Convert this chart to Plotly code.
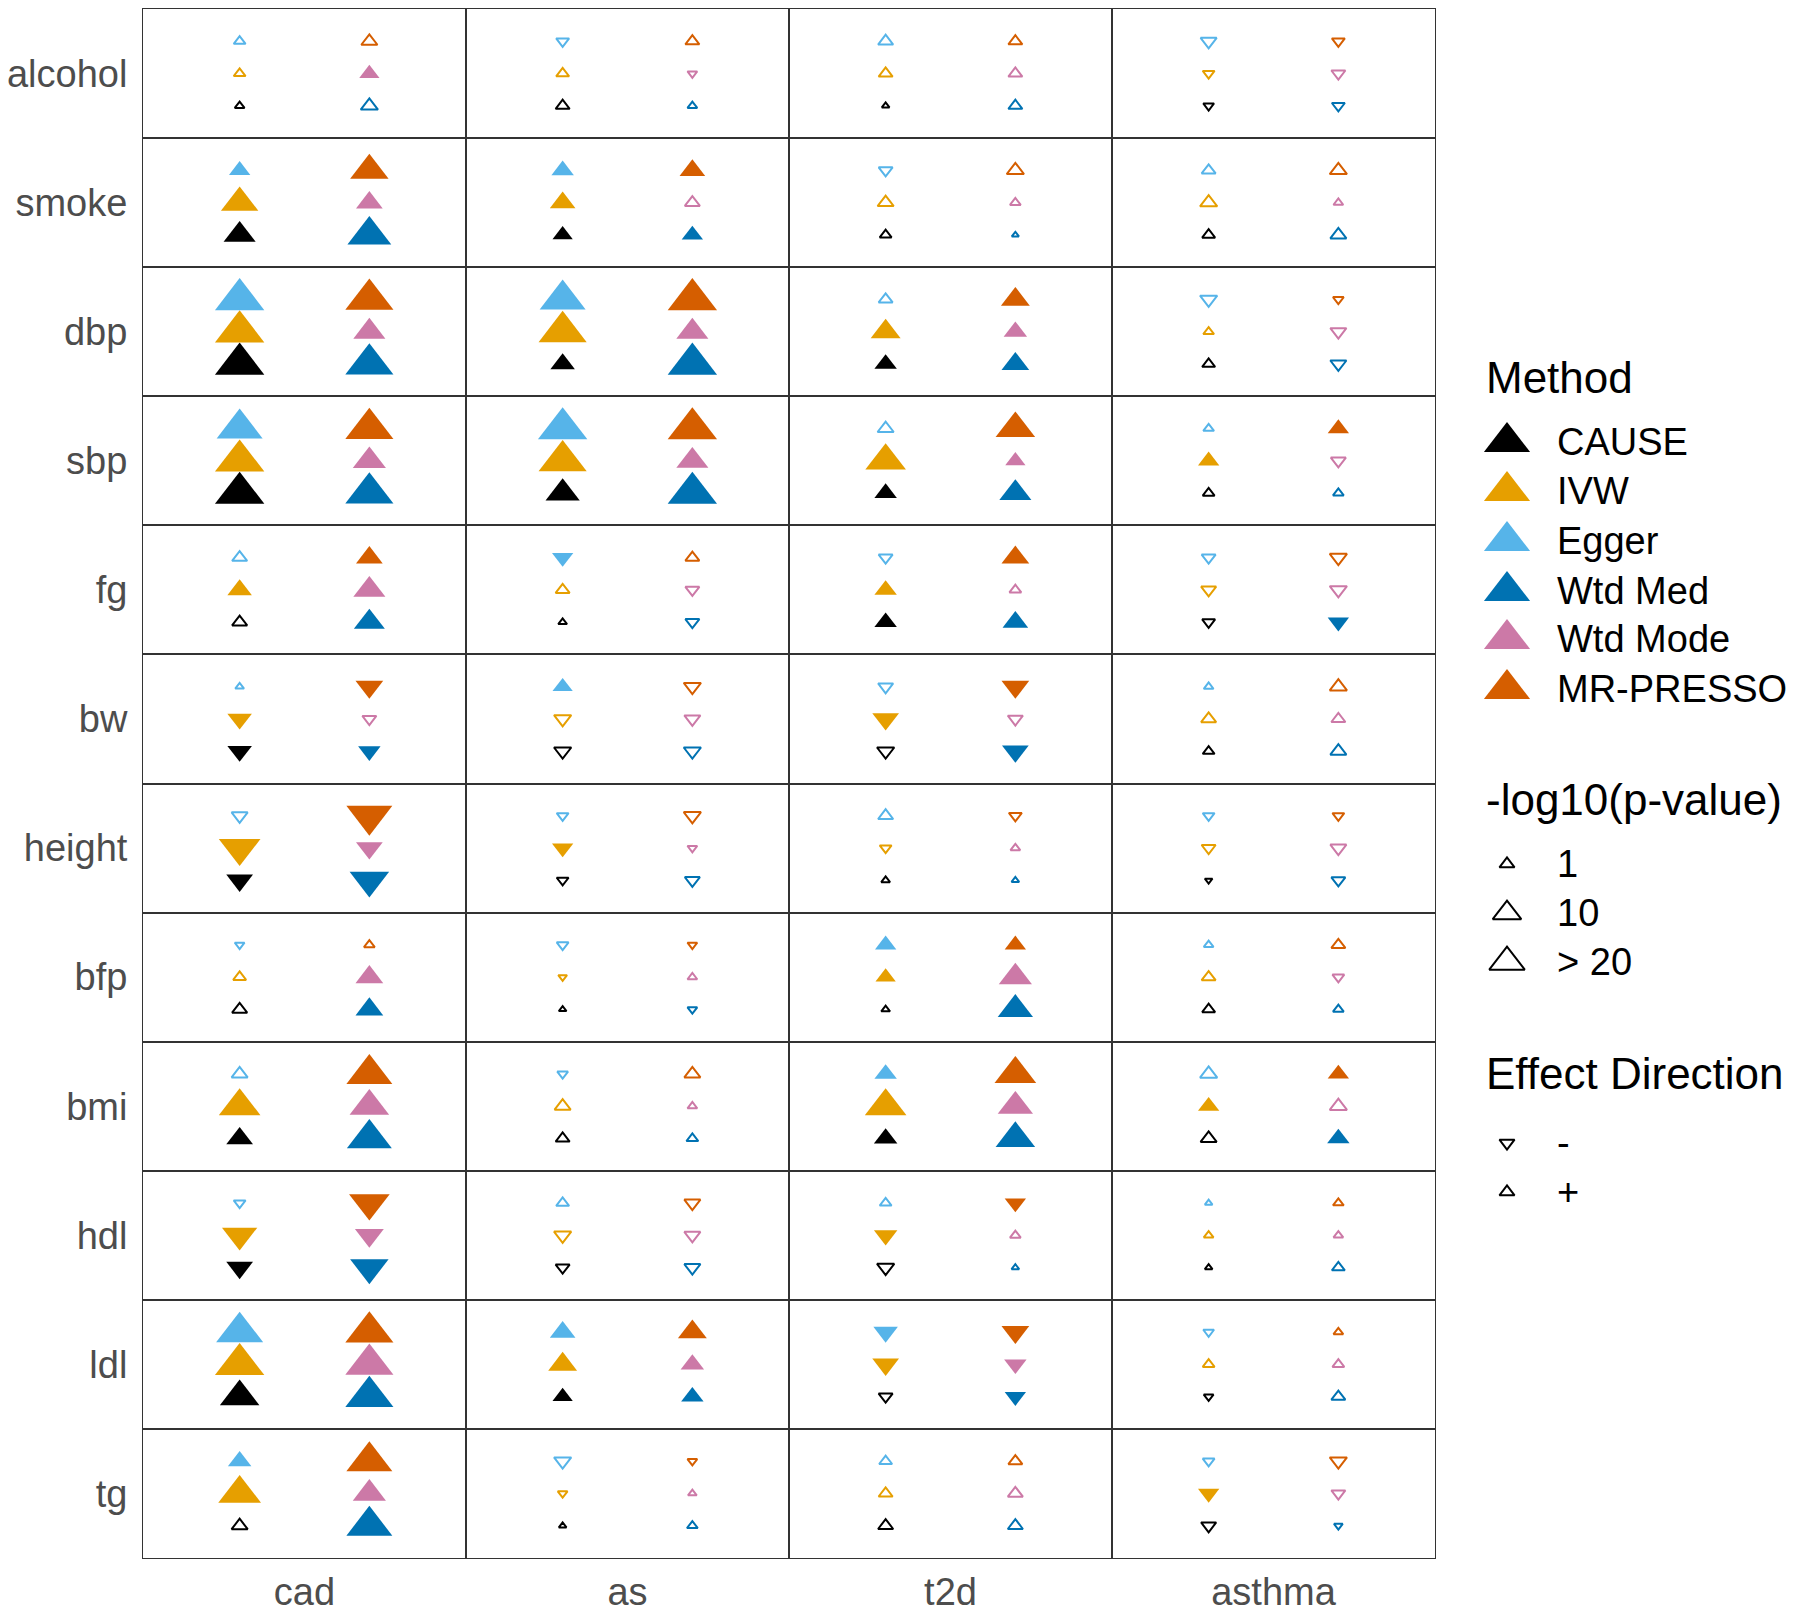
"""Grid of MR method estimates: traits x outcomes, triangles sized by -log10(p)."""

import plotly.graph_objects as go

traits = ["alcohol", "smoke", "dbp", "sbp", "fg", "bw", "height", "bfp", "bmi", "hdl", "ldl", "tg"]
outcomes = ["cad", "as", "t2d", "asthma"]
methods = ["CAUSE", "IVW", "Egger", "Wtd Med", "Wtd Mode", "MR-PRESSO"]
method_colors = ["#000000", "#E69F00", "#56B4E9", "#0072B2", "#CC79A7", "#D55E00"]

# signed -log10(p-value): sign gives effect direction; rows = traits, cols = outcomes
cause = [
    [0.12, 0.73, 0.02, -0.21],
    [11.8, 2.1, 0.34, 0.52],
    [48, 4.5, 3.2, 0.52],
    [48, 14.7, 3.2, 0.34],
    [1.0, 0.06, 3.2, -0.52],
    [-4.5, -1.7, -1.7, 0.34],
    [-6.2, -0.34, 0.06, -0.02],
    [1.0, 0.02, 0.06, 0.52],
    [6.2, 0.73, 3.8, 1.3],
    [-6.2, -0.73, -1.7, 0.02],
    [23.7, 2.1, -0.73, -0.12],
    [1.3, 0.02, 1.0, -1.0],
]
ivw = [
    [0.34, 0.52, 0.73, -0.34],
    [19.8, 5.3, 1.3, 1.7],
    [48, 44.3, 9.3, 0.21],
    [48, 44.3, 25.9, 2.6],
    [4.5, 0.73, 3.2, -1.0],
    [-4.5, -1.7, -6.2, 1.0],
    [-28.1, -2.6, -0.34, -0.73],
    [0.52, -0.06, 2.1, 0.73],
    [28.1, 1.3, 28.1, 2.6],
    [-16.3, -1.7, -3.8, 0.12],
    [48, 8.2, -6.2, 0.34],
    [30.5, -0.12, 0.73, -2.6],
]
egger = [
    [0.34, -0.52, 1.0, -1.3],
    [2.6, 3.2, -0.73, 0.73],
    [48, 38.3, 0.73, -1.7],
    [38.3, 48, 1.3, 0.21],
    [1.0, -2.6, -0.73, -0.73],
    [0.06, 2.1, -1.0, 0.12],
    [-1.3, -0.34, 1.0, -0.34],
    [-0.12, -0.34, 2.6, 0.12],
    [1.3, -0.21, 3.2, 1.7],
    [-0.34, 0.52, 0.34, 0.02],
    [41.3, 5.3, -4.5, -0.21],
    [3.8, -1.7, 0.52, -0.34],
]
wtd_med = [
    [1.7, 0.12, 0.73, -0.52],
    [33.0, 2.6, 0.01, 1.3],
    [44.3, 48, 7.1, -1.3],
    [44.3, 48, 11.8, 0.21],
    [10.5, -0.73, 5.3, -2.6],
    [-3.2, -1.7, -6.2, 1.3],
    [-23.7, -1.0, 0.02, -0.73],
    [7.1, -0.12, 16.3, 0.21],
    [35.7, 0.34, 23.7, 3.2],
    [-21.7, -1.3, 0.02, 0.52],
    [44.3, 3.2, -2.6, 0.73],
    [38.3, 0.21, 1.0, -0.06],
]
wtd_mode = [
    [2.1, -0.12, 0.73, -0.73],
    [6.2, 1.0, 0.21, 0.12],
    [11.8, 11.8, 3.8, -1.3],
    [13.2, 11.8, 2.1, -1.0],
    [11.8, -0.73, 0.34, -1.7],
    [-0.73, -1.3, -1.0, 0.73],
    [-6.2, -0.12, 0.12, -1.3],
    [7.1, 0.12, 13.2, -0.34],
    [23.7, 0.12, 16.3, 1.7],
    [-8.2, -1.3, 0.21, 0.12],
    [44.3, 3.8, -3.2, 0.34],
    [13.2, 0.06, 1.0, -0.73],
]
mr_presso = [
    [1.3, 0.73, 0.73, -0.52],
    [21.7, 5.3, 1.7, 1.7],
    [44.3, 48, 8.2, -0.21],
    [44.3, 48, 23.7, 2.6],
    [6.2, 0.73, 7.1, -1.7],
    [-7.1, -1.7, -7.1, 1.7],
    [-38.3, -1.7, -0.52, -0.34],
    [0.21, -0.12, 2.6, 0.73],
    [38.3, 1.3, 28.1, 2.6],
    [-25.9, -1.3, -2.6, 0.21],
    [44.3, 8.2, -7.1, 0.12],
    [38.3, -0.12, 0.73, -1.7],
]

# significant (filled) or not (open)
cause_sig = [[0, 0, 0, 0], [1, 1, 0, 0], [1, 1, 1, 0], [1, 1, 1, 0], [0, 0, 1, 0], [1, 0, 0, 0],
             [1, 0, 0, 0], [0, 0, 0, 0], [1, 0, 1, 0], [1, 0, 0, 0], [1, 1, 0, 0], [0, 0, 0, 0]]
ivw_sig = [[0, 0, 0, 0], [1, 1, 0, 0], [1, 1, 1, 0], [1, 1, 1, 1], [1, 0, 1, 0], [1, 0, 1, 0],
           [1, 1, 0, 0], [0, 0, 1, 0], [1, 0, 1, 1], [1, 0, 1, 0], [1, 1, 1, 0], [1, 0, 0, 1]]
egger_sig = [[0, 0, 0, 0], [1, 1, 0, 0], [1, 1, 0, 0], [1, 1, 0, 0], [0, 1, 0, 0], [0, 1, 0, 0],
             [0, 0, 0, 0], [0, 0, 1, 0], [0, 0, 1, 0], [0, 0, 0, 0], [1, 1, 1, 0], [1, 0, 0, 0]]
wtd_med_sig = [[0, 0, 0, 0], [1, 1, 0, 0], [1, 1, 1, 0], [1, 1, 1, 0], [1, 0, 1, 1], [1, 0, 1, 0],
               [1, 0, 0, 0], [1, 0, 1, 0], [1, 0, 1, 1], [1, 0, 0, 0], [1, 1, 1, 0], [1, 0, 0, 0]]
wtd_mode_sig = [[1, 0, 0, 0], [1, 0, 0, 0], [1, 1, 1, 0], [1, 1, 1, 0], [1, 0, 0, 0], [0, 0, 0, 0],
                [1, 0, 0, 0], [1, 0, 1, 0], [1, 0, 1, 0], [1, 0, 0, 0], [1, 1, 1, 0], [1, 0, 0, 0]]
mr_presso_sig = [[0, 0, 0, 0], [1, 1, 0, 0], [1, 1, 1, 0], [1, 1, 1, 1], [1, 0, 1, 0], [1, 0, 1, 0],
                 [1, 0, 0, 0], [0, 0, 1, 0], [1, 0, 1, 1], [1, 0, 1, 0], [1, 1, 1, 0], [1, 0, 0, 0]]

values = [cause, ivw, egger, wtd_med, wtd_mode, mr_presso]
signif = [cause_sig, ivw_sig, egger_sig, wtd_med_sig, wtd_mode_sig, mr_presso_sig]

# slot of each method inside a panel
method_x = [1, 1, 1, 2, 2, 2]
method_y = [1, 2, 3, 1, 2, 3]

pval_breaks = [1, 10, 20]
pval_labels = ["1", "10", "> 20"]
direction_labels = ["-", "+"]

TEXT_GREY = "#4D4D4D"
FONT = "Liberation Sans, Arial, sans-serif"
OPEN_LW = 2
BODY = 8  # page body margin the browser adds around the plot div
FLAT = 1.07  # plotly triangles are flatter than R's, widen a bit to keep the area


def tri_width(v):
    """Triangle width in px for a -log10(p) value."""
    v = min(abs(v), 48)
    return 7 + 9 * v ** 0.38


def plotly_size(width, filled):
    # plotly triangle width is ~1.155 * size; open strokes add to the outside
    return (width * FLAT - (0 if filled else OPEN_LW)) / 1.155


fig = go.Figure()

n_rows, n_cols = len(traits), len(outcomes)
m_left, m_top, m_right = 143 - BODY, 9 - BODY, 0
m_bottom = 1609 - (1558 - BODY)
paper_w = 1800 - m_left - m_right
grid_frac = 1292 / paper_w
layout_axes = {}

for r, trait in enumerate(traits):
    for c, outcome in enumerate(outcomes):
        k = r * n_cols + c + 1
        sfx = "" if k == 1 else str(k)
        sizes, symbols, colors, lws = [], [], [], []
        for m in range(len(methods)):
            v = values[m][r][c]
            filled = bool(signif[m][r][c])
            sym = "triangle-up" if v >= 0 else "triangle-down"
            if not filled:
                sym += "-open"
            symbols.append(sym)
            sizes.append(plotly_size(tri_width(v), filled))
            colors.append(method_colors[m])
            lws.append(0 if filled else OPEN_LW)
        fig.add_trace(go.Scatter(
            x=method_x, y=method_y, mode="markers",
            marker=dict(symbol=symbols, size=sizes, color=colors, opacity=1,
                        line=dict(color=colors, width=lws)),
            xaxis="x" + sfx, yaxis="y" + sfx,
            showlegend=False, hoverinfo="skip",
        ))

        xa = dict(
            domain=[c * grid_frac / n_cols, (c + 1) * grid_frac / n_cols],
            range=[0.255, 2.745], anchor="y" + sfx,
            showline=True, mirror=True, linecolor="#333333", linewidth=1,
            showgrid=False, zeroline=False, ticks="", fixedrange=True,
        )
        ya = dict(
            domain=[1 - (r + 1) / n_rows, 1 - r / n_rows],
            range=[0, 4], anchor="x" + sfx,
            showline=True, mirror=True, linecolor="#333333", linewidth=1,
            showgrid=False, zeroline=False, ticks="", fixedrange=True,
        )
        if r == n_rows - 1:
            xa.update(tickvals=[1.5], ticktext=[outcome], ticklabelstandoff=0,
                      tickfont=dict(size=38, color=TEXT_GREY, family=FONT))
        else:
            xa.update(showticklabels=False)
        if c == 0:
            ya.update(tickvals=[2], ticktext=[trait], ticklabelstandoff=7,
                      tickfont=dict(size=38, color=TEXT_GREY, family=FONT))
        else:
            ya.update(showticklabels=False)
        layout_axes["xaxis" + sfx] = xa
        layout_axes["yaxis" + sfx] = ya

# legend panel on its own hidden axes (screen pixel coordinates)
lk = str(n_rows * n_cols + 1)
layout_axes["xaxis" + lk] = dict(domain=[grid_frac, 1], range=[1435, 1800 + BODY], visible=False,
                                 anchor="y" + lk, fixedrange=True)
layout_axes["yaxis" + lk] = dict(domain=[0, 1], range=[1558, 9], visible=False,
                                 anchor="x" + lk, fixedrange=True)

key_x, text_x, title_x = 1507, 1555, 1484
method_rows = [442, 491, 541, 591, 639, 689]
pval_rows = [864, 913, 962]
dir_rows = [1143, 1192]

fig.add_trace(go.Scatter(
    x=[key_x] * len(methods), y=method_rows, mode="markers",
    marker=dict(symbol="triangle-up", size=40, color=method_colors, opacity=1, line=dict(width=0)),
    xaxis="x" + lk, yaxis="y" + lk, showlegend=False, hoverinfo="skip",
))
fig.add_trace(go.Scatter(
    x=[key_x] * len(pval_breaks), y=pval_rows, mode="markers",
    marker=dict(symbol="triangle-up-open", size=[plotly_size(tri_width(b), False) for b in pval_breaks],
                color="#000000", opacity=1, line=dict(color="#000000", width=OPEN_LW)),
    xaxis="x" + lk, yaxis="y" + lk, showlegend=False, hoverinfo="skip",
))
fig.add_trace(go.Scatter(
    x=[key_x] * 2, y=dir_rows, mode="markers",
    marker=dict(symbol=["triangle-down-open", "triangle-up-open"],
                size=plotly_size(tri_width(1), False),
                color="#000000", opacity=1, line=dict(color="#000000", width=OPEN_LW)),
    xaxis="x" + lk, yaxis="y" + lk, showlegend=False, hoverinfo="skip",
))

annotations = []


def add_text(x, y, text, size):
    annotations.append(dict(
        x=x, y=y, xref="x" + lk, yref="y" + lk, text=text, showarrow=False,
        xanchor="left", yanchor="middle", font=dict(size=size, color="#000000", family=FONT),
    ))


add_text(title_x, 377, "Method", 44)
for name, yy in zip(methods, method_rows):
    add_text(text_x, yy, name, 38)
add_text(title_x, 799, "-log10(p-value)", 44)
for lab, yy in zip(pval_labels, pval_rows):
    add_text(text_x, yy, lab, 38)
add_text(title_x, 1073, "Effect Direction", 44)
for lab, yy in zip(direction_labels, dir_rows):
    add_text(text_x, yy, lab, 38)

fig.update_layout(
    width=1800, height=1609,
    margin=dict(l=m_left, r=m_right, t=m_top, b=m_bottom),
    plot_bgcolor="white", paper_bgcolor="white",
    annotations=annotations,
    **layout_axes,
)

fig.write_html("out.html")
